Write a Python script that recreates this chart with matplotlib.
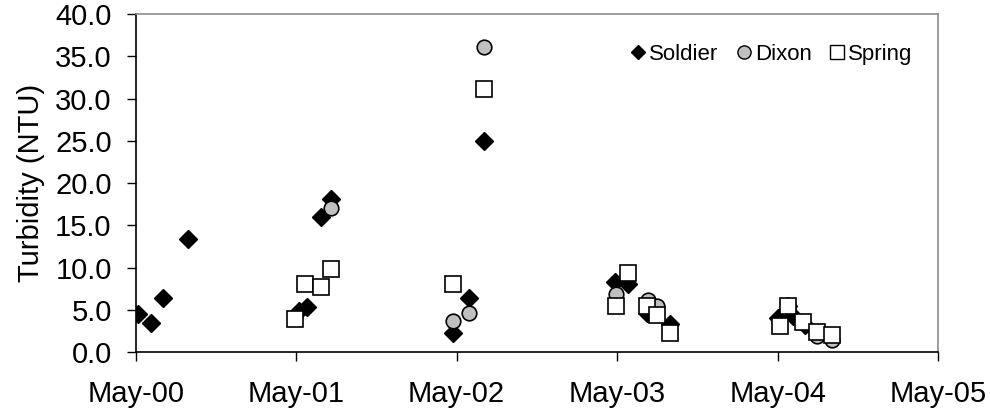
import datetime as dt
import matplotlib
matplotlib.use("Agg")
import matplotlib.pyplot as plt
import matplotlib.dates as mdates
from matplotlib.lines import Line2D
from matplotlib.ticker import FormatStrFormatter

plt.rcParams['font.family'] = ['Liberation Sans', 'DejaVu Sans']

# sample dates and turbidity (NTU)
soldier_dates = ['2000-05-06', '2000-06-04', '2000-07-02', '2000-08-27',
                 '2001-05-07', '2001-05-25', '2001-06-26', '2001-07-19',
                 '2002-04-23', '2002-05-30', '2002-07-02',
                 '2003-04-26', '2003-05-26', '2003-07-09', '2003-08-29',
                 '2004-05-02', '2004-05-25', '2004-06-05', '2004-07-01']
soldier_vals = [4.5, 3.4, 6.4, 13.4,
                4.8, 5.3, 16.0, 18.1,
                2.2, 6.4, 25.0,
                8.3, 8.1, 4.6, 3.3,
                4.0, 5.5, 4.3, 3.2]

dixon_dates = ['2001-07-19', '2002-04-23', '2002-05-30', '2002-07-02',
               '2003-04-29', '2003-07-10', '2003-07-31',
               '2004-07-29', '2004-09-01']
dixon_vals = [17.0, 3.7, 4.65, 36.1,
              6.9, 6.2, 5.4,
              1.9, 1.45]

spring_dates = ['2001-04-29', '2001-05-21', '2001-06-26', '2001-07-19',
                '2002-04-23', '2002-07-02',
                '2003-05-26', '2003-04-29', '2003-07-09', '2003-07-31', '2003-08-29',
                '2004-05-06', '2004-05-25', '2004-06-28', '2004-07-29', '2004-09-01']
spring_vals = [3.9, 8.0, 7.7, 9.8,
               8.1, 31.1,
               9.3, 5.5, 5.4, 4.4, 2.3,
               3.1, 5.4, 3.5, 2.4, 2.0]

def to_dates(lst):
    return [dt.datetime.strptime(s, '%Y-%m-%d') for s in lst]

fig = plt.figure(figsize=(9.9, 4.16), dpi=100)
ax = fig.add_axes([0.1374, 0.1538, 0.8101, 0.8125])

ax.plot(to_dates(soldier_dates), soldier_vals, linestyle='none', marker='D',
        ms=8.8, mfc='black', mec='black', zorder=3)
ax.plot(to_dates(dixon_dates), dixon_vals, linestyle='none', marker='o',
        ms=10.5, mfc='#c0c0c0', mec='black', mew=1.2, zorder=4)
ax.plot(to_dates(spring_dates), spring_vals, linestyle='none', marker='s',
        ms=11, mfc='white', mec='black', mew=1.2, zorder=5)

ax.set_xlim(dt.datetime(2000, 5, 1), dt.datetime(2005, 5, 1))
ax.set_ylim(0, 40)
ax.xaxis.set_major_locator(mdates.MonthLocator(bymonth=5, bymonthday=1))
ax.xaxis.set_major_formatter(mdates.DateFormatter('%b-%y'))
ax.set_yticks(range(0, 41, 5))
ax.yaxis.set_major_formatter(FormatStrFormatter('%.1f'))

ax.tick_params(axis='both', labelsize=21, direction='out', length=6.5, width=1, color='black')
ax.tick_params(axis='y', pad=11)
ax.tick_params(axis='x', pad=14)
ax.set_ylabel('Turbidity (NTU)', fontsize=21, labelpad=7)

for side in ['left', 'bottom']:
    ax.spines[side].set_color('black')
    ax.spines[side].set_linewidth(1.2)
for side in ['top', 'right']:
    ax.spines[side].set_color('#8c8c8c')
    ax.spines[side].set_linewidth(1.2)

handles = [
    Line2D([], [], linestyle='none', marker='D', ms=7, mfc='black', mec='black'),
    Line2D([], [], linestyle='none', marker='o', ms=9.5, mfc='#c0c0c0', mec='black', mew=1),
    Line2D([], [], linestyle='none', marker='s', ms=9.5, mfc='white', mec='black', mew=1),
]
ax.legend(handles, ['Soldier', 'Dixon', 'Spring'], ncol=3, frameon=False,
          fontsize=16, loc='upper right', bbox_to_anchor=(0.985, 0.95),
          handlelength=0.7, handletextpad=0.15, columnspacing=0.8, borderaxespad=0.2)

fig.savefig('out.png', dpi=100)
